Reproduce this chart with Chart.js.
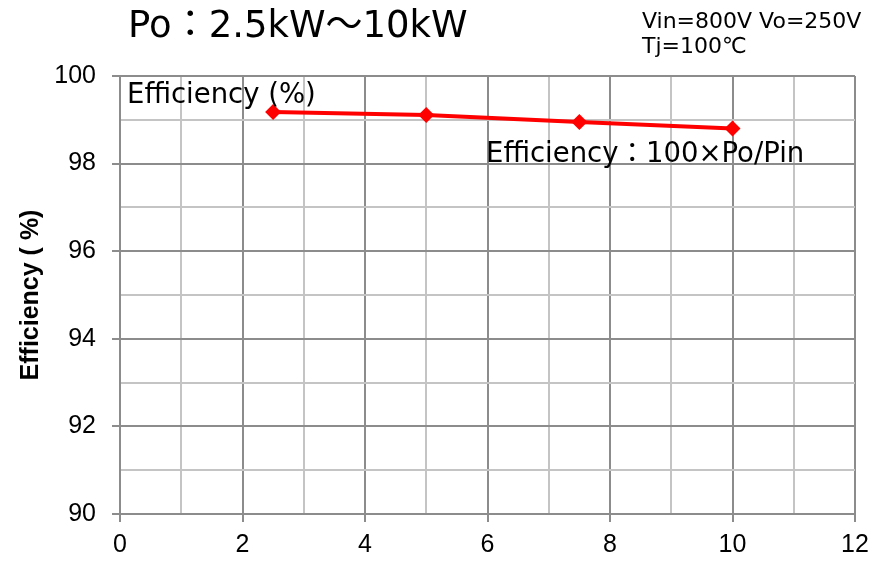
<!DOCTYPE html>
<html><head><meta charset="utf-8">
<script src="https://cdn.jsdelivr.net/npm/chart.js@4/dist/chart.umd.min.js"></script>
<style>html,body{margin:0;padding:0;background:#fff;}#wrap{width:878px;height:562px;position:relative;}</style>
</head><body><div id="wrap"><canvas id="c" width="878" height="562"></canvas></div>
<script>
const outputPowerKW = [2.5, 5, 7.5, 10];
const efficiencyPct = [99.18, 99.11, 98.95, 98.80];
const xTickRange = [0, 12];
const yTickRange = [90, 100];
const titleText = 'Po：2.5kW～10kW';
const conditionLines = ['Vin=800V Vo=250V', 'Tj=100℃'];
const seriesLabel = 'Efficiency (%)';
const formulaLabel = 'Efficiency：100×Po/Pin';
const yAxisTitle = 'Efficiency ( %)';

const textPlugin = {
  id: 'texts',
  afterDraw(chart) {
    const ctx = chart.ctx;
    ctx.save();
    ctx.fillStyle = '#000';
    ctx.textBaseline = 'alphabetic';
    ctx.textAlign = 'left';
    ctx.font = '37px "DejaVu Sans", "Noto Sans CJK JP", sans-serif';
    ctx.fillText(titleText, 128, 37);
    ctx.font = '22px "DejaVu Sans", "Noto Sans CJK JP", sans-serif';
    ctx.fillText(conditionLines[0], 642, 28);
    ctx.fillText(conditionLines[1], 642, 53);
    ctx.font = '27.5px "DejaVu Sans", "Noto Sans CJK JP", sans-serif';
    ctx.fillText(seriesLabel, 127, 103);
    ctx.fillText(formulaLabel, 486, 162);
    ctx.restore();
  }
};

const majorGrid = (v) => v % 2 === 0;

new Chart(document.getElementById('c'), {
  type: 'scatter',
  data: {
    datasets: [{
      label: seriesLabel,
      data: outputPowerKW.map((x, i) => ({x, y: efficiencyPct[i]})),
      showLine: true,
      borderColor: '#FF0000',
      backgroundColor: '#FF0000',
      borderWidth: 4,
      pointStyle: 'rectRot',
      pointRadius: 8,
      pointHoverRadius: 8,
      pointBorderWidth: 0
    }]
  },
  options: {
    responsive: false,
    animation: false,
    events: [],
    layout: {padding: {top: 76, right: 23, bottom: 0, left: 0}},
    plugins: {legend: {display: false}, tooltip: {enabled: false}},
    scales: {
      x: {
        type: 'linear', min: xTickRange[0], max: xTickRange[1],
        afterFit(s) { s.height = 48; },
        ticks: {stepSize: 1, autoSkip: false, maxRotation: 0, color: '#000',
          font: {family: '"Liberation Sans", Arial, sans-serif', size: 25},
          padding: 8,
          callback: (v) => majorGrid(v) ? String(v) : ''},
        grid: {
          color: (c) => majorGrid(c.tick.value) ? '#8c8c8c' : '#c4c4c4',
          lineWidth: 2,
          tickLength: 8,
          tickColor: (c) => majorGrid(c.tick.value) ? '#8c8c8c' : 'rgba(0,0,0,0)'
        },
        border: {color: '#8c8c8c', width: 2}
      },
      y: {
        type: 'linear', min: yTickRange[0], max: yTickRange[1],
        afterFit(s) { s.width = 120; },
        ticks: {stepSize: 1, autoSkip: false, color: '#000',
          font: {family: '"Liberation Sans", Arial, sans-serif', size: 25},
          padding: 16,
          callback: (v) => majorGrid(v) ? String(v) : ''},
        title: {display: true, text: yAxisTitle, color: '#000',
          font: {family: '"Liberation Sans", Arial, sans-serif', size: 25, weight: 'bold'},
          padding: {top: 16, bottom: 0}},
        grid: {
          color: (c) => majorGrid(c.tick.value) ? '#8c8c8c' : '#c4c4c4',
          lineWidth: 2,
          tickLength: 8,
          tickColor: (c) => majorGrid(c.tick.value) ? '#8c8c8c' : 'rgba(0,0,0,0)'
        },
        border: {color: '#8c8c8c', width: 2}
      }
    }
  },
  plugins: [textPlugin]
});
</script></body></html>
